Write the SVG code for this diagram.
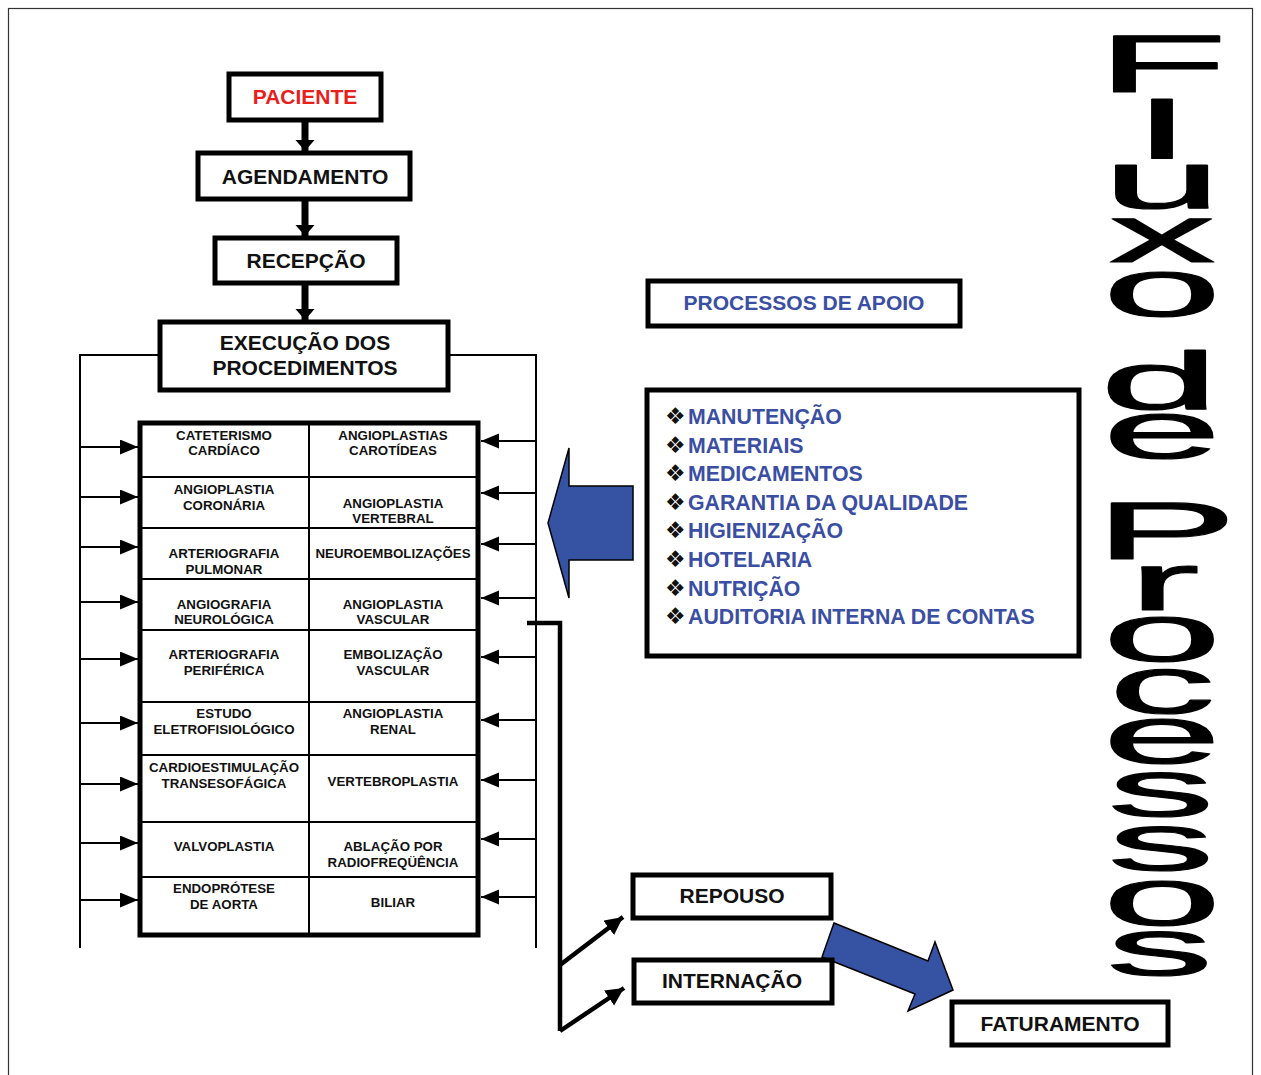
<svg xmlns="http://www.w3.org/2000/svg" width="1261" height="1075" viewBox="0 0 1261 1075">
<style>
.box{fill:#fff;stroke:#000;stroke-width:5}
.t{font-family:"Liberation Sans",Arial,sans-serif;font-weight:bold;text-anchor:middle;fill:#111}
.big{font-size:21px}
.cell{font-size:13.3px}
.blue{fill:#3a4ea3}
.red{fill:#e8201c}
.thin{stroke:#000;stroke-width:2;fill:none}
.thick{stroke:#000;stroke-width:4.5;fill:none}
.title{font-family:"Liberation Sans",Arial,sans-serif;font-weight:normal;font-size:82px;text-anchor:middle;fill:#000;stroke:#000;stroke-width:1.2;stroke-linejoin:round}
.item{font-family:"Liberation Sans",Arial,sans-serif;font-weight:bold;font-size:21.3px;fill:#3a4ea3}
.bul{font-family:"DejaVu Sans",sans-serif;font-size:23px;fill:#111}
.barrow{fill:#3653a3;stroke:#000;stroke-width:1.5}
</style>
<defs>
<marker id="ah" markerUnits="userSpaceOnUse" markerWidth="19" markerHeight="16" refX="18" refY="7.5" orient="auto">
<path d="M0,0 L18,7.5 L0,15 z" fill="#000"/>
</marker>
<marker id="ahk" markerUnits="userSpaceOnUse" markerWidth="20" markerHeight="20" refX="18" refY="9" orient="auto">
<path d="M0,0 L18,9 L0,18 z" fill="#000"/>
</marker>
<marker id="ahd" markerUnits="userSpaceOnUse" markerWidth="20" markerHeight="20" refX="11" refY="9.5" orient="auto">
<path d="M0,0 L11,9.5 L0,19 z" fill="#000"/>
</marker>
</defs>
<rect x="8.5" y="8.5" width="1244" height="1090" fill="none" stroke="#333" stroke-width="1.2"/>

<g id="connectors">
<line x1="305" y1="121" x2="305" y2="151" stroke="#000" stroke-width="7" marker-end="url(#ahd)"/>
<line x1="305" y1="201" x2="305" y2="236" stroke="#000" stroke-width="7" marker-end="url(#ahd)"/>
<line x1="305" y1="285" x2="305" y2="320" stroke="#000" stroke-width="7" marker-end="url(#ahd)"/>
<polyline class="thin" points="158,355 80,355 80,948"/>
<polyline class="thin" points="450,355 536,355 536,948"/>
<g class="thin" marker-end="url(#ah)">
<line x1="80" y1="447" x2="138" y2="447"/>
<line x1="80" y1="497" x2="138" y2="497"/>
<line x1="80" y1="547" x2="138" y2="547"/>
<line x1="80" y1="602" x2="138" y2="602"/>
<line x1="80" y1="659" x2="138" y2="659"/>
<line x1="80" y1="723" x2="138" y2="723"/>
<line x1="80" y1="784" x2="138" y2="784"/>
<line x1="80" y1="843" x2="138" y2="843"/>
<line x1="80" y1="900" x2="138" y2="900"/>
<line x1="536" y1="441" x2="481" y2="441"/>
<line x1="536" y1="493" x2="481" y2="493"/>
<line x1="536" y1="544" x2="481" y2="544"/>
<line x1="536" y1="598" x2="481" y2="598"/>
<line x1="536" y1="657" x2="481" y2="657"/>
<line x1="536" y1="720" x2="481" y2="720"/>
<line x1="536" y1="780" x2="481" y2="780"/>
<line x1="536" y1="839" x2="481" y2="839"/>
<line x1="536" y1="897" x2="481" y2="897"/>
</g>
<polyline class="thick" points="527,623 560,623 560,1031"/>
<line class="thick" x1="560" y1="965" x2="623" y2="917" marker-end="url(#ahk)"/>
<line class="thick" x1="560" y1="1031" x2="624" y2="988" marker-end="url(#ahk)"/>
<polygon class="barrow" points="633,486 569,486 569,448 548,523 569,598 569,560 633,560"/>
<polygon class="barrow" points="834,923 928,961 935,942 953,990 908,1011 915,994 822,957"/>
</g>

<g id="paciente"><rect class="box" x="229" y="74" width="152" height="46"/><text class="t big red" x="305" y="104">PACIENTE</text></g>
<g id="agendamento"><rect class="box" x="198" y="153" width="212" height="46"/><text class="t big" x="305" y="184">AGENDAMENTO</text></g>
<g id="recepcao"><rect class="box" x="215" y="238" width="182" height="45"/><text class="t big" x="306" y="268">RECEPÇÃO</text></g>
<g id="execucao"><rect class="box" x="160" y="322" width="288" height="68"/><text class="t big" x="305" y="350">EXECUÇÃO DOS</text><text class="t big" x="305" y="375">PROCEDIMENTOS</text></g>

<g id="procedimentos">
<rect x="140" y="423" width="338" height="512" fill="#fff" stroke="#000" stroke-width="5"/>
<g class="thin">
<line x1="309" y1="423" x2="309" y2="935"/>
<line x1="140" y1="477" x2="478" y2="477"/>
<line x1="140" y1="528" x2="478" y2="528"/>
<line x1="140" y1="579" x2="478" y2="579"/>
<line x1="140" y1="630" x2="478" y2="630"/>
<line x1="140" y1="702" x2="478" y2="702"/>
<line x1="140" y1="755" x2="478" y2="755"/>
<line x1="140" y1="822" x2="478" y2="822"/>
<line x1="140" y1="877" x2="478" y2="877"/>
</g>
<g class="t cell">
<text x="224" y="440">CATETERISMO</text><text x="224" y="455">CARDÍACO</text>
<text x="393" y="440">ANGIOPLASTIAS</text><text x="393" y="455">CAROTÍDEAS</text>
<text x="224" y="494">ANGIOPLASTIA</text><text x="224" y="510">CORONÁRIA</text>
<text x="393" y="508">ANGIOPLASTIA</text><text x="393" y="523">VERTEBRAL</text>
<text x="224" y="558">ARTERIOGRAFIA</text><text x="224" y="574">PULMONAR</text>
<text x="393" y="558">NEUROEMBOLIZAÇÕES</text>
<text x="224" y="609">ANGIOGRAFIA</text><text x="224" y="624">NEUROLÓGICA</text>
<text x="393" y="609">ANGIOPLASTIA</text><text x="393" y="624">VASCULAR</text>
<text x="224" y="659">ARTERIOGRAFIA</text><text x="224" y="675">PERIFÉRICA</text>
<text x="393" y="659">EMBOLIZAÇÃO</text><text x="393" y="675">VASCULAR</text>
<text x="224" y="718">ESTUDO</text><text x="224" y="734">ELETROFISIOLÓGICO</text>
<text x="393" y="718">ANGIOPLASTIA</text><text x="393" y="734">RENAL</text>
<text x="224" y="772">CARDIOESTIMULAÇÃO</text><text x="224" y="788">TRANSESOFÁGICA</text>
<text x="393" y="786">VERTEBROPLASTIA</text>
<text x="224" y="851">VALVOPLASTIA</text>
<text x="393" y="851">ABLAÇÃO POR</text><text x="393" y="867">RADIOFREQÜÊNCIA</text>
<text x="224" y="893">ENDOPRÓTESE</text><text x="224" y="909">DE AORTA</text>
<text x="393" y="907">BILIAR</text>
</g>
</g>

<g id="processos-apoio"><rect class="box" x="648" y="281" width="312" height="45"/><text class="t big blue" x="804" y="310">PROCESSOS DE APOIO</text></g>

<g id="lista-apoio">
<rect class="box" x="647" y="390" width="432" height="266"/>
<g>
<text class="bul" x="665" y="424">❖</text><text class="item" x="688" y="424">MANUTENÇÃO</text>
<text class="bul" x="665" y="453">❖</text><text class="item" x="688" y="453">MATERIAIS</text>
<text class="bul" x="665" y="481">❖</text><text class="item" x="688" y="481">MEDICAMENTOS</text>
<text class="bul" x="665" y="510">❖</text><text class="item" x="688" y="510">GARANTIA DA QUALIDADE</text>
<text class="bul" x="665" y="538">❖</text><text class="item" x="688" y="538">HIGIENIZAÇÃO</text>
<text class="bul" x="665" y="567">❖</text><text class="item" x="688" y="567">HOTELARIA</text>
<text class="bul" x="665" y="596">❖</text><text class="item" x="688" y="596">NUTRIÇÃO</text>
<text class="bul" x="665" y="624">❖</text><text class="item" x="688" y="624">AUDITORIA INTERNA DE CONTAS</text>
</g>
</g>

<g id="repouso"><rect class="box" x="633" y="875" width="198" height="43"/><text class="t big" x="732" y="903">REPOUSO</text></g>
<g id="internacao"><rect class="box" x="634" y="960" width="198" height="43"/><text class="t big" x="732" y="988">INTERNAÇÃO</text></g>
<g id="faturamento"><rect class="box" x="952" y="1002" width="216" height="43"/><text class="t big" x="1060" y="1031">FATURAMENTO</text></g>

<g id="titulo">
<text class="title" transform="translate(1162,0) scale(2.6,1)"><tspan x="0" y="92">F</tspan><tspan x="0" y="158">l</tspan><tspan x="0" y="208">u</tspan><tspan x="0" y="262">x</tspan><tspan x="0" y="316">o</tspan><tspan x="-1" y="409">d</tspan><tspan x="0" y="458">e</tspan><tspan x="1.5" y="559">P</tspan><tspan x="0.8" y="610">r</tspan><tspan x="0" y="661">o</tspan><tspan x="0" y="713">c</tspan><tspan x="0" y="763">e</tspan><tspan x="-0.4" y="816">s</tspan><tspan x="-0.4" y="870">s</tspan><tspan x="0" y="925">o</tspan><tspan x="-0.8" y="975">s</tspan></text>
</g>
</svg>
